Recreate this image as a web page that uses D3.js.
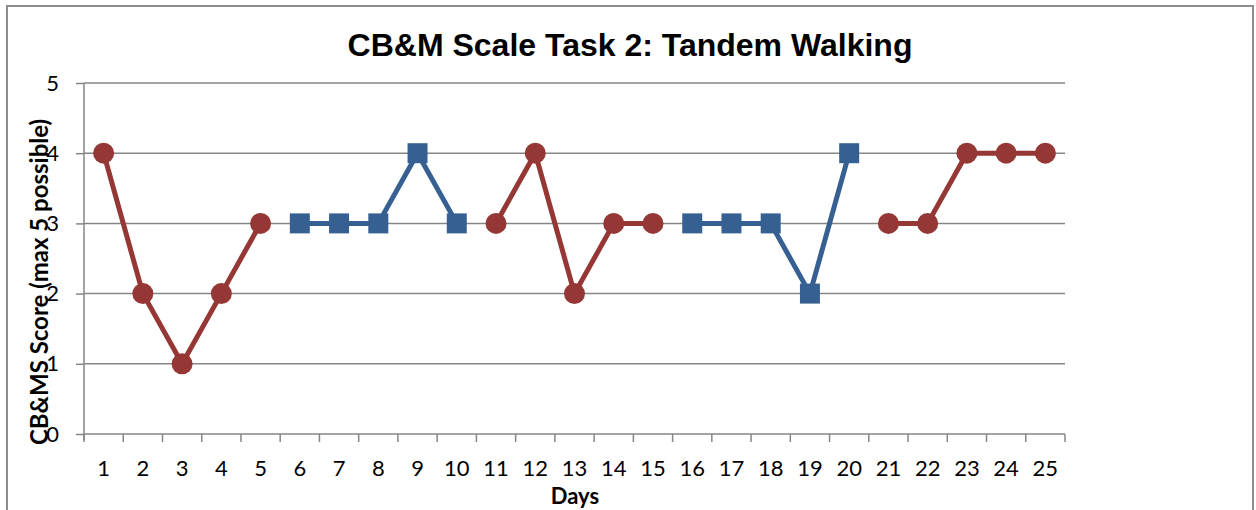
<!DOCTYPE html>
<html>
<head>
<meta charset="utf-8">
<script src="https://cdn.jsdelivr.net/npm/d3@7"></script>
<style>
  body { margin: 0; background: #fff; }
  svg { display: block; }
</style>
</head>
<body>
<svg id="chart"></svg>
<script>
// chart data
var days = d3.range(1, 26).map(String);
var yTicks = [0, 1, 2, 3, 4, 5];
// red circles (phases A), null = gap
var seriesA = [4, 2, 1, 2, 3, null, null, null, null, null, 3, 4, 2, 3, 3, null, null, null, null, null, 3, 3, 4, 4, 4];
// blue squares (phases B)
var seriesB = [null, null, null, null, null, 3, 3, 3, 4, 3, null, null, null, null, null, 3, 3, 3, 2, 4, null, null, null, null, null];

var W = 1256, H = 510;
var margin = {top: 83, right: 191, bottom: 76, left: 84};
var plotW = W - margin.left - margin.right,
    plotH = H - margin.top - margin.bottom;

var gridColor = "#868686";
var redColor = "#953735", blueColor = "#376092";
var labelFont = "Lato, 'Open Sans', sans-serif";

var svg = d3.select("#chart").attr("width", W).attr("height", H);

// outer frame (bottom edge is off-picture)
svg.append("path")
  .attr("d", "M7,520 V6 H1253 V520")
  .attr("fill", "none")
  .attr("stroke", "#8c8c8c")
  .attr("stroke-width", 2);

var g = svg.append("g").attr("transform", "translate(" + margin.left + "," + margin.top + ")");

var x = d3.scaleBand().domain(days).range([0, plotW]);
var y = d3.scaleLinear().domain([0, 5]).range([plotH, 0]);

// gridlines
g.selectAll("line.grid").data(yTicks.filter(function(d){ return d > 0; }))
  .enter().append("line")
  .attr("class", "grid")
  .attr("x1", 0).attr("x2", plotW)
  .attr("y1", function(d){ return y(d); }).attr("y2", function(d){ return y(d); })
  .attr("stroke", gridColor).attr("stroke-width", 1.5);

// y axis
var yAxis = d3.axisLeft(y).tickValues(yTicks).tickSize(8).tickPadding(17).tickFormat(d3.format("d"));
var yG = g.append("g").call(yAxis);
yG.select(".domain").attr("stroke", gridColor).attr("stroke-width", 1.5).attr("d", "M0,0 V" + (plotH + 6));
yG.selectAll(".tick line").attr("stroke", gridColor).attr("stroke-width", 1.5);
yG.selectAll(".tick text").attr("font-family", labelFont).attr("font-size", 22).attr("fill", "#000");

// x axis: ticks at category boundaries
var xG = g.append("g").attr("transform", "translate(0," + plotH + ")");
xG.append("line").attr("x1", 0).attr("x2", plotW).attr("stroke", gridColor).attr("stroke-width", 1.5);
xG.selectAll("line.tk").data(d3.range(0, days.length + 1))
  .enter().append("line")
  .attr("class", "tk")
  .attr("x1", function(i){ return i * x.bandwidth(); })
  .attr("x2", function(i){ return i * x.bandwidth(); })
  .attr("y1", 0).attr("y2", 8)
  .attr("stroke", gridColor).attr("stroke-width", 1.5);
xG.selectAll("text").data(days)
  .enter().append("text")
  .attr("x", function(d){ return x(d) + x.bandwidth() / 2; })
  .attr("y", 42)
  .attr("text-anchor", "middle")
  .attr("font-family", labelFont)
  .attr("font-size", 22)
  .text(function(d){ return d; });

// line generator with gaps
function drawSeries(vals, color, shape) {
  var pts = days.map(function(d, i){ return {day: d, v: vals[i]}; });
  var line = d3.line()
    .defined(function(p){ return p.v != null; })
    .x(function(p){ return x(p.day) + x.bandwidth() / 2; })
    .y(function(p){ return y(p.v); });
  g.append("path").datum(pts)
    .attr("d", line)
    .attr("fill", "none")
    .attr("stroke", color)
    .attr("stroke-width", 5)
    .attr("stroke-linejoin", "round");
  var sym = d3.symbol().type(shape === "circle" ? d3.symbolCircle : d3.symbolSquare)
    .size(shape === "circle" ? Math.PI * 10.5 * 10.5 : 20 * 20);
  g.selectAll(null).data(pts.filter(function(p){ return p.v != null; }))
    .enter().append("path")
    .attr("d", sym)
    .attr("transform", function(p){ return "translate(" + (x(p.day) + x.bandwidth() / 2) + "," + y(p.v) + ")"; })
    .attr("fill", color);
}
drawSeries(seriesA, redColor, "circle");
drawSeries(seriesB, blueColor, "square");

// title
svg.append("text")
  .attr("x", 630).attr("y", 56)
  .attr("text-anchor", "middle")
  .attr("font-family", "'Liberation Sans', Arial, sans-serif")
  .attr("font-weight", "bold")
  .attr("font-size", 32)
  .text("CB&M Scale Task 2: Tandem Walking");

// axis titles
svg.append("text")
  .attr("transform", "translate(48,282) rotate(-90)")
  .attr("text-anchor", "middle")
  .attr("font-family", labelFont)
  .attr("font-weight", "bold")
  .attr("font-size", 24)
  .text("CB&MS Score (max 5 possible)");

svg.append("text")
  .attr("x", 575).attr("y", 504)
  .attr("text-anchor", "middle")
  .attr("font-family", labelFont)
  .attr("font-weight", "bold")
  .attr("font-size", 22)
  .text("Days");
</script>
</body>
</html>
